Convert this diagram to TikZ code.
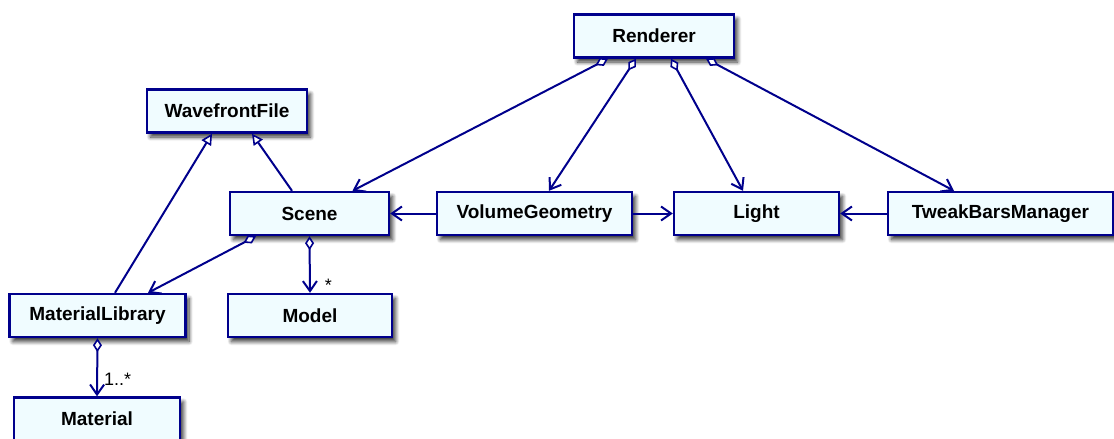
\documentclass[tikz,border=0pt]{standalone}
\usepackage{fontspec}
\setmainfont{Liberation Sans}
\usetikzlibrary{arrows.meta,shadows.blur}

\definecolor{umlline}{RGB}{0,0,140}
\definecolor{umlfill}{RGB}{240,252,255}

\begin{document}
\begin{tikzpicture}[
        x=1pt, y=-1pt,
        cls/.style={
            draw=umlline,
            fill=umlfill,
            line width=2.4pt,
            inner sep=0pt,
            minimum height=43pt,
            font=\fontsize{19}{22}\selectfont\bfseries,
            blur shadow={shadow xshift=3.5pt, shadow yshift=-4.5pt,
                shadow blur steps=8, shadow blur radius=4pt,
                shadow opacity=80}
        },
        mult/.style={
            inner sep=1pt,
            font=\fontsize{18}{22}\selectfont
        },
        assoc/.style={draw=umlline, line width=2pt,
            -{Straight Barb[length=10pt,width=14pt,line width=2pt]}},
        aggr/.style={draw=umlline, line width=2pt,
            {Diamond[fill=white,length=14pt,width=9pt,line width=1.6pt]}-{Straight Barb[length=10pt,width=14pt,line width=2pt]}},
        inherit/.style={draw=umlline, line width=2pt,
            -{Triangle[fill=white,length=11pt,width=11pt,line width=1.6pt]}}
    ]

        \useasboundingbox (0,0) rectangle (1114,439);

        \node[cls, minimum width=160pt] (renderer) at (654,36) {Renderer};
        \node[cls, minimum width=160pt] (wavefront) at (227,111) {WavefrontFile};

        \node[cls, minimum width=159pt] (scene) at (309.5,213.5) {Scene};
        \node[cls, minimum width=195pt] (volume) at (534.5,213.5) {VolumeGeometry};
        \node[cls, minimum width=165pt] (light) at (756.5,213.5) {Light};
        \node[cls, minimum width=225pt] (tweak) at (1000.5,213.5) {TweakBarsManager};

        \node[cls, minimum width=176pt] (matlib) at (97.5,315.5) {MaterialLibrary};
        \node[cls, minimum width=164pt] (model) at (310,315.5) {Model};
        \node[cls, minimum width=166pt] (material) at (97,419) {Material};

        % Renderer owns the four parts below it.
        \draw[aggr] ([xshift=-46pt]renderer.south) -- ([xshift=43pt]scene.north);
        \draw[aggr] ([xshift=-18pt]renderer.south) -- ([xshift=14.5pt]volume.north);
        \draw[aggr] ([xshift=17pt]renderer.south) -- ([xshift=-13.5pt]light.north);
        \draw[aggr] ([xshift=52pt]renderer.south) -- ([xshift=-46.5pt]tweak.north);

        \draw[inherit] ([xshift=-17.5pt]scene.north) -- ([xshift=25pt]wavefront.south);
        \draw[inherit] ([xshift=17.5pt]matlib.north) -- ([xshift=-15pt]wavefront.south);

        \draw[aggr] ([xshift=-53.5pt]scene.south) -- ([xshift=50.5pt]matlib.north);
        \draw[aggr] (scene.south) -- (model.north)
            node[mult, pos=0.86, anchor=west, xshift=13pt] {*};
        \draw[aggr] (matlib.south) -- (material.north)
            node[mult, pos=0.7, anchor=west, xshift=5pt] {1..*};

        \draw[assoc] (volume) -- (scene);
        \draw[assoc] (volume) -- (light);
        \draw[assoc] (tweak) -- (light);

    \end{tikzpicture}
\end{document}
